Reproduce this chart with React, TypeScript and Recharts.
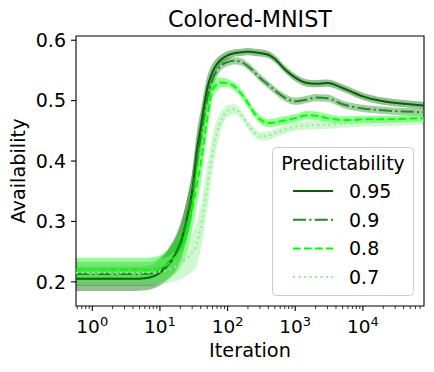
import React from "react";
import {
  Area,
  ComposedChart,
  Legend,
  Line,
  ReferenceArea,
  XAxis,
  YAxis,
} from "recharts";

// iterations (log x); first point sits on the left edge of the axes
const iterations = [
  0.575, 1, 2, 4, 6, 8, 10, 13, 16, 20, 25, 30, 35, 40, 50, 60, 70, 80, 100,
  130, 160, 200, 250, 300, 400, 500, 700, 1000, 1500, 2000, 3000, 5000, 7000,
  10000, 20000, 40000, 80000,
];

const mean95 = [
  0.205, 0.205, 0.205, 0.205, 0.206, 0.209, 0.215, 0.227, 0.24, 0.263, 0.305,
  0.35, 0.415, 0.455, 0.52, 0.548, 0.561, 0.568, 0.575, 0.579, 0.58, 0.581,
  0.58, 0.579, 0.576, 0.569, 0.552, 0.538, 0.529, 0.528, 0.529, 0.521, 0.514,
  0.507, 0.499, 0.495, 0.492,
];
const mean90 = [
  0.213, 0.213, 0.213, 0.213, 0.213, 0.214, 0.219, 0.23, 0.243, 0.266, 0.303,
  0.345, 0.4, 0.44, 0.503, 0.535, 0.55, 0.558, 0.564, 0.566, 0.564, 0.557,
  0.547, 0.538, 0.526, 0.517, 0.505, 0.499, 0.502, 0.505, 0.504, 0.494, 0.49,
  0.487, 0.484, 0.482, 0.481,
];
const mean80 = [
  0.22, 0.22, 0.22, 0.22, 0.22, 0.221, 0.223, 0.229, 0.238, 0.252, 0.28, 0.32,
  0.36, 0.395, 0.47, 0.518, 0.527, 0.53, 0.529, 0.522, 0.511, 0.496, 0.479,
  0.469, 0.463, 0.464, 0.467, 0.471, 0.476, 0.475, 0.471, 0.468, 0.468, 0.469,
  0.469, 0.47, 0.471,
];
const mean70 = [
  0.215, 0.215, 0.215, 0.215, 0.215, 0.215, 0.217, 0.22, 0.224, 0.23, 0.239,
  0.249, 0.262, 0.29, 0.355, 0.412, 0.447, 0.466, 0.483, 0.486, 0.476, 0.46,
  0.447, 0.441, 0.442, 0.446, 0.452, 0.457, 0.459, 0.46, 0.46, 0.462, 0.463,
  0.464, 0.465, 0.466, 0.467,
];

// half-width of the shaded band
const spread95 = [
  0.02, 0.02, 0.02, 0.02, 0.02, 0.02, 0.021, 0.024, 0.027, 0.03, 0.032, 0.033,
  0.032, 0.028, 0.02, 0.013, 0.01, 0.008, 0.007, 0.006, 0.006, 0.006, 0.006,
  0.006, 0.006, 0.006, 0.006, 0.006, 0.006, 0.006, 0.006, 0.006, 0.006, 0.006,
  0.006, 0.006, 0.006,
];
const spread90 = [
  0.02, 0.02, 0.02, 0.02, 0.02, 0.02, 0.021, 0.024, 0.027, 0.03, 0.032, 0.033,
  0.032, 0.029, 0.022, 0.014, 0.01, 0.008, 0.007, 0.006, 0.006, 0.006, 0.006,
  0.006, 0.006, 0.006, 0.006, 0.006, 0.006, 0.006, 0.006, 0.006, 0.006, 0.006,
  0.006, 0.006, 0.006,
];
const spread80 = [
  0.02, 0.02, 0.02, 0.02, 0.02, 0.02, 0.021, 0.023, 0.026, 0.029, 0.032, 0.034,
  0.034, 0.032, 0.026, 0.016, 0.011, 0.008, 0.007, 0.007, 0.007, 0.007, 0.007,
  0.007, 0.007, 0.007, 0.007, 0.007, 0.007, 0.007, 0.007, 0.006, 0.006, 0.006,
  0.006, 0.006, 0.006,
];
const spread70 = [
  0.02, 0.02, 0.02, 0.02, 0.02, 0.02, 0.02, 0.022, 0.024, 0.026, 0.029, 0.032,
  0.035, 0.037, 0.037, 0.03, 0.022, 0.015, 0.01, 0.008, 0.007, 0.007, 0.007,
  0.007, 0.007, 0.007, 0.007, 0.007, 0.007, 0.007, 0.007, 0.007, 0.007, 0.007,
  0.007, 0.007, 0.007,
];

const majorTicks = [1, 10, 100, 1000, 10000];
const yTicks = [0.2, 0.3, 0.4, 0.5, 0.6];

const X_MIN = 0.575;
const X_MAX = 80000;
const Y_MIN = 0.16;
const Y_MAX = 0.607;

const series = [
  { key: "p95", name: "0.95", color: "#006400", dash: undefined, mean: mean95, spread: spread95 },
  { key: "p90", name: "0.9", color: "#228B22", dash: "13 3.3 2.1 3.3", mean: mean90, spread: spread90 },
  { key: "p80", name: "0.8", color: "#00FF00", dash: "7.7 3.3", mean: mean80, spread: spread80 },
  { key: "p70", name: "0.7", color: "#90EE90", dash: "2.1 3.4", mean: mean70, spread: spread70 },
];

// minor log ticks 2..9 per decade, inside the axis range
const minorTicks: number[] = [];
for (const d of [0.1, 1, 10, 100, 1000, 10000]) {
  for (let k = 2; k <= 9; k++) {
    const v = +(d * k).toPrecision(3);
    if (v > X_MIN && v < X_MAX) minorTicks.push(v);
  }
}
const xTicks = [...majorTicks, ...minorTicks].sort((a, b) => a - b);

const data = iterations.map((it, i) => {
  const row: Record<string, number | number[]> = { it };
  for (const s of series) {
    row[s.key] = s.mean[i];
    row[s.key + "_band"] = [s.mean[i] - s.spread[i], s.mean[i] + s.spread[i]];
  }
  return row;
});

const FONT = "'DejaVu Sans', sans-serif";

function XTick({ x, y, payload }: any) {
  const v = payload.value as number;
  const e = Math.round(Math.log10(v));
  const major = Math.abs(Math.log10(v) - e) < 1e-6;
  return (
    <g>
      <line
        x1={x}
        x2={x}
        y1={y}
        y2={y + (major ? 5 : 3)}
        stroke="#000"
        strokeWidth={major ? 1.1 : 0.8}
      />
      {major && (
        <text x={x} y={y + 27} textAnchor="middle" fontSize={18.5} fill="#000">
          10
          <tspan dy={-7} fontSize={13}>
            {e}
          </tspan>
        </text>
      )}
    </g>
  );
}

function LegendBox() {
  return (
    <svg width={143} height={150} style={{ fontFamily: FONT }}>
      <rect
        x={0.5}
        y={0.5}
        width={141}
        height={148}
        rx={4}
        fill="rgba(255,255,255,0.8)"
        stroke="#cccccc"
      />
      <text x={71} y={16} textAnchor="middle" dominantBaseline="central" fontSize={19} fill="#000">
        Predictability
      </text>
      {series.map((s, i) => {
        const cy = 44 + i * 28.7;
        return (
          <g key={s.key}>
            <line x1={21} x2={61} y1={cy} y2={cy} stroke={s.color} strokeWidth={2} strokeDasharray={s.dash} />
            <text x={77} y={cy} dominantBaseline="central" fontSize={19} fill="#000">
              {s.name}
            </text>
          </g>
        );
      })}
    </svg>
  );
}

export default function App() {
  return (
    <div style={{ position: "absolute", left: 0, top: 0, fontFamily: FONT }}>
      <ComposedChart
        width={434}
        height={372}
        data={data}
        margin={{ top: 36, right: 10, bottom: 0, left: 0 }}
      >
        <text x={250} y={27.3} textAnchor="middle" fontSize={22.3} fill="#000">
          Colored-MNIST
        </text>
        <XAxis
          dataKey="it"
          type="number"
          scale="log"
          domain={[X_MIN, X_MAX]}
          allowDataOverflow
          ticks={xTicks}
          interval={0}
          height={66}
          axisLine={false}
          tickLine={false}
          tickSize={0}
          tickMargin={0}
          tick={<XTick />}
          label={{
            content: () => (
              <text x={250} y={357.3} textAnchor="middle" fontSize={19.3} fill="#000">
                Iteration
              </text>
            ),
          }}
        />
        <YAxis
          type="number"
          domain={[Y_MIN, Y_MAX]}
          allowDataOverflow
          ticks={yTicks}
          interval={0}
          width={76}
          axisLine={false}
          tickLine={{ stroke: "#000", strokeWidth: 1.1 }}
          tickSize={5}
          tickMargin={5}
          tickFormatter={(v: number) => v.toFixed(1)}
          tick={{ fill: "#000", fontSize: 19 }}
          label={{
            content: () => (
              <text
                x={24.5}
                y={171}
                transform="rotate(-90, 24.5, 171)"
                textAnchor="middle"
                fontSize={19.3}
                fill="#000"
              >
                Availability
              </text>
            ),
          }}
        />
        {series.flatMap((s) => [
          <Area
            key={s.key + "_band"}
            type="monotone"
            dataKey={s.key + "_band"}
            stroke="none"
            fill={s.color}
            fillOpacity={0.42}
            isAnimationActive={false}
            dot={false}
            activeDot={false}
          />,
          <Line
            key={s.key}
            type="monotone"
            dataKey={s.key}
            stroke={s.color}
            strokeWidth={2}
            strokeDasharray={s.dash}
            dot={false}
            activeDot={false}
            isAnimationActive={false}
          />,
        ])}
        <ReferenceArea
          x1={X_MIN}
          x2={X_MAX}
          y1={Y_MIN}
          y2={Y_MAX}
          fill="none"
          stroke="#000"
          strokeWidth={1.1}
          fillOpacity={0}
        />
        <Legend
          layout="horizontal"
          verticalAlign="middle"
          align="center"
          content={() => <LegendBox />}
          wrapperStyle={{ position: "absolute", left: 272, top: 147, width: 143, height: 150 }}
        />
      </ComposedChart>
    </div>
  );
}
